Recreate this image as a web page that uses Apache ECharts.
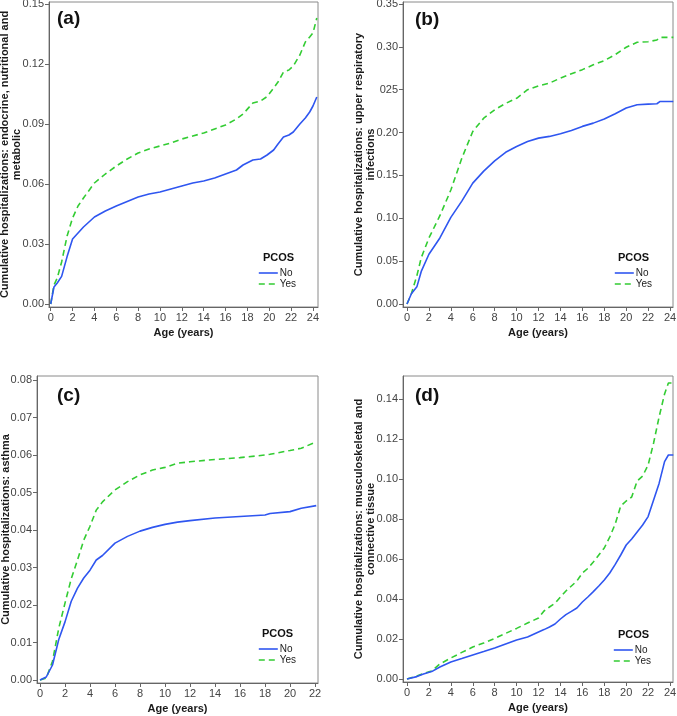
<!DOCTYPE html>
<html>
<head>
<meta charset="utf-8">
<script src="https://cdn.jsdelivr.net/npm/echarts@6/dist/echarts.min.js"></script>
<style>
html,body{margin:0;padding:0;background:#fff;}
#c{width:677px;height:716px;}
</style>
</head>
<body>
<div id="c"></div>
<script>
// ---------- DATA ----------
// Panel (a): endocrine, nutritional and metabolic
const ageA = [0,0.3,0.6,1,1.5,2,2.5,3,4,5,6,7,8,9,10,11,12,13,14,15,16,17,17.6,18.5,19.2,19.8,20.4,20.8,21.3,21.8,22.2,22.8,23.3,23.7,24.0,24.35];
const noA  = [0,0.0085,0.0105,0.0138,0.0237,0.0325,0.0355,0.0385,0.0435,0.0465,0.049,0.0513,0.0535,0.055,0.056,0.0575,0.059,0.0605,0.0615,0.063,0.065,0.067,0.0695,0.072,0.0725,0.0745,0.077,0.080,0.0835,0.0845,0.086,0.090,0.093,0.096,0.099,0.1035];
const yesA = [0,0.0095,0.013,0.021,0.034,0.043,0.049,0.053,0.0605,0.065,0.069,0.0725,0.0755,0.0775,0.079,0.0805,0.0825,0.084,0.0855,0.0875,0.0895,0.0925,0.095,0.1005,0.1015,0.1037,0.108,0.111,0.116,0.117,0.119,0.1245,0.131,0.1335,0.1355,0.143];
const yTicksA = [0,0.03,0.06,0.09,0.12,0.15];
const yLabelsA = ['0.00','0.03','0.06','0.09','0.12','0.15'];

// Panel (b): upper respiratory infections
const ageB = [0,0.4,0.9,1.3,2,3,4,5,6,7,8,9,10,11,12,13,14,15,16,17,18,19,20,21,22,22.8,23.1,24.3];
const noB  = [0,0.012,0.02,0.038,0.058,0.077,0.101,0.12,0.141,0.155,0.167,0.177,0.1837,0.1896,0.1935,0.1955,0.1986,0.2025,0.2072,0.211,0.2158,0.222,0.2286,0.2325,0.2332,0.2336,0.2363,0.2363];
const yesB = [0,0.012,0.033,0.054,0.077,0.103,0.133,0.170,0.2013,0.2168,0.2266,0.234,0.240,0.250,0.2544,0.2577,0.2635,0.2686,0.2734,0.279,0.284,0.2909,0.2995,0.3053,0.306,0.308,0.311,0.311];
const yTicksB = [0,0.05,0.10,0.15,0.20,0.25,0.30,0.35];
const yLabelsB = ['0.00','0.05','0.10','0.15','0.20','025','0.30','0.35'];

// Panel (c): asthma
const ageC = [0,0.5,1,1.5,2,2.5,3,3.5,4,4.5,5,6,7,8,9,10,11,12,14,16,18,18.4,20,20.9,22.1];
const noC  = [0,0.0008,0.004,0.0108,0.0155,0.021,0.0245,0.0272,0.0293,0.032,0.0332,0.0365,0.0383,0.0397,0.0407,0.0415,0.0421,0.0425,0.0432,0.0436,0.044,0.0444,0.0449,0.0458,0.0465];
const yesC = [0,0.0005,0.005,0.0138,0.0205,0.027,0.032,0.0373,0.041,0.0453,0.0475,0.0507,0.0529,0.0547,0.056,0.0567,0.0578,0.0582,0.0588,0.0593,0.060,0.0602,0.0612,0.0618,0.0635];
const yTicksC = [0,0.01,0.02,0.03,0.04,0.05,0.06,0.07,0.08];
const yLabelsC = ['0.00','0.01','0.02','0.03','0.04','0.05','0.06','0.07','0.08'];

// Panel (d): musculoskeletal and connective tissue
const ageD = [0,0.9,1.5,2.25,3,4,5,6,7,8,9,10,11,12,12.5,13,13.5,14,14.5,15,15.5,16,16.5,17,17.5,18,18.5,19,19.5,20,20.5,21,21.5,22,22.5,23,23.5,23.85,24.3];
const noD  = [0,0.0012,0.0025,0.0037,0.006,0.0085,0.0102,0.012,0.0137,0.0155,0.0175,0.0195,0.021,0.0235,0.0247,0.026,0.0275,0.030,0.0322,0.0338,0.0355,0.0385,0.041,0.0437,0.0465,0.0495,0.053,0.0573,0.062,0.067,0.070,0.0735,0.077,0.0812,0.0895,0.0978,0.1087,0.112,0.112];
const yesD = [0,0.0015,0.0028,0.004,0.0075,0.0105,0.0133,0.016,0.018,0.0203,0.0228,0.0253,0.028,0.0305,0.034,0.036,0.0378,0.041,0.044,0.0465,0.049,0.053,0.0553,0.0585,0.062,0.0655,0.071,0.0775,0.0865,0.089,0.091,0.099,0.1015,0.107,0.118,0.131,0.1425,0.148,0.148];
const yTicksD = [0,0.02,0.04,0.06,0.08,0.10,0.12,0.14];
const yLabelsD = ['0.00','0.02','0.04','0.06','0.08','0.10','0.12','0.14'];

const xTicks24 = [0,2,4,6,8,10,12,14,16,18,20,22,24];
const xTicks22 = [0,2,4,6,8,10,12,14,16,18,20,22];

const letters = ['(a)','(b)','(c)','(d)'];
const yTitles = [
  'Cumulative hospitalizations: endocrine, nutritional and\nmetabolic',
  'Cumulative hospitalizations: upper respiratory\ninfections',
  'Cumulative hospitalizations: asthma',
  'Cumulative hospitalizations: musculoskeletal and\nconnective tissue'
];
const xTitle = 'Age (years)';
const seriesNames = ['No','Yes'];
const legendTitle = 'PCOS';

// ---------- LAYOUT ----------
const FF = '"Liberation Sans", Arial, Helvetica, sans-serif';
const BLUE = '#2f56f0';
const GREEN = '#33cc33';

const panels = [
  {age:ageA, no:noA, yes:yesA, yT:yTicksA, yL:yLabelsA, xT:xTicks24,
   grid:{left:49, top:2, width:269, height:305}, xr:[-0.156,24.46], yr:[-0.0015,0.151], nameGap:26,
   letter:{left:57, top:9}, pcos:{left:263, top:252}, leg:{left:258, top:268}},
  {age:ageB, no:noB, yes:yesB, yT:yTicksB, yL:yLabelsB, xT:xTicks24,
   grid:{left:403, top:2, width:270, height:305}, xr:[-0.365,24.27], yr:[-0.0035,0.3523], nameGap:26,
   letter:{left:415, top:10}, pcos:{left:618, top:252}, leg:{left:614, top:268}},
  {age:ageC, no:noC, yes:yesC, yT:yTicksC, yL:yLabelsC, xT:xTicks22,
   grid:{left:37, top:376, width:281, height:307}, xr:[-0.24,22.24], yr:[-0.0008,0.08107], nameGap:25,
   letter:{left:57, top:386}, pcos:{left:262, top:628}, leg:{left:258, top:644}},
  {age:ageD, no:noD, yes:yesD, yT:yTicksD, yL:yLabelsD, xT:xTicks24,
   grid:{left:403, top:376, width:270, height:306}, xr:[-0.365,24.27], yr:[-0.0015,0.1515], nameGap:26,
   letter:{left:415, top:386}, pcos:{left:618, top:629}, leg:{left:613, top:645}}
];

const option = {
  animation:false,
  backgroundColor:'#ffffff',
  textStyle:{fontFamily:FF},
  grid:[], xAxis:[], yAxis:[], series:[], title:[], legend:[]
};

panels.forEach((p,i)=>{
  option.grid.push(Object.assign({show:true, borderColor:'#8a8a8a', borderWidth:1, backgroundColor:'transparent',
    containLabel:false, outerBoundsMode:'none'}, p.grid));
  option.xAxis.push({
    type:'value', gridIndex:i, min:p.xr[0], max:p.xr[1],
    name:xTitle, nameLocation:'middle', nameGap:20, nameMoveOverlap:false,
    nameTextStyle:{fontFamily:FF, fontSize:11, fontWeight:'bold', color:'#1a1a1a'},
    axisLine:{show:true, onZero:false, lineStyle:{color:'#666', width:1}},
    axisTick:{show:true, length:4, customValues:p.xT, lineStyle:{color:'#666'}},
    axisLabel:{show:true, margin:5, customValues:p.xT, fontFamily:FF, fontSize:11, color:'#444',
      formatter:(v)=>String(Math.round(v))},
    splitLine:{show:false}
  });
  option.yAxis.push({
    type:'value', gridIndex:i, min:p.yr[0], max:p.yr[1],
    name:yTitles[i], nameLocation:'middle', nameRotate:90, nameGap:p.nameGap, nameMoveOverlap:false,
    nameTextStyle:{fontFamily:FF, fontSize:11, fontWeight:'bold', color:'#1a1a1a', lineHeight:12, align:'center'},
    axisLine:{show:true, onZero:false, lineStyle:{color:'#666', width:1}},
    axisTick:{show:true, length:4, customValues:p.yT, lineStyle:{color:'#666'}},
    axisLabel:{show:true, margin:5, customValues:p.yT, fontFamily:FF, fontSize:11, color:'#444',
      formatter:(v)=>{ let k=p.yT.findIndex(t=>Math.abs(t-v)<1e-9); return k>=0?p.yL[k]:''; }},
    splitLine:{show:false}
  });
  option.series.push({
    name:seriesNames[0], type:'line', xAxisIndex:i, yAxisIndex:i, symbol:'none', showSymbol:false,
    data:p.age.map((a,k)=>[a,p.no[k]]),
    lineStyle:{color:BLUE, width:1.6, type:'solid'}, itemStyle:{color:BLUE}, z:3
  });
  option.series.push({
    name:seriesNames[1], type:'line', xAxisIndex:i, yAxisIndex:i, symbol:'none', showSymbol:false,
    data:p.age.map((a,k)=>[a,p.yes[k]]),
    lineStyle:{color:GREEN, width:1.6, type:[6,4]}, itemStyle:{color:GREEN}, z:2
  });
  option.title.push({text:letters[i], left:p.letter.left, top:p.letter.top, padding:0,
    textStyle:{fontFamily:FF, fontSize:19, fontWeight:'bold', color:'#111', lineHeight:20}});
  option.title.push({text:legendTitle, left:p.pcos.left, top:p.pcos.top, padding:0,
    textStyle:{fontFamily:FF, fontSize:11, fontWeight:'bold', color:'#111', lineHeight:12}});
  option.legend.push({data:seriesNames, orient:'vertical', left:p.leg.left, top:p.leg.top, padding:0,
    itemWidth:19, itemHeight:10, itemGap:1, selectedMode:false,
    itemStyle:{color:'rgba(0,0,0,0)', borderColor:'rgba(0,0,0,0)', borderWidth:0, opacity:0},
    lineStyle:{width:1.6},
    textStyle:{fontFamily:FF, fontSize:10, color:'#222', padding:[0,0,0,-3]}});
});

const chart = echarts.init(document.getElementById('c'), null, {renderer:'canvas'});
chart.setOption(option);
</script>
</body>
</html>
